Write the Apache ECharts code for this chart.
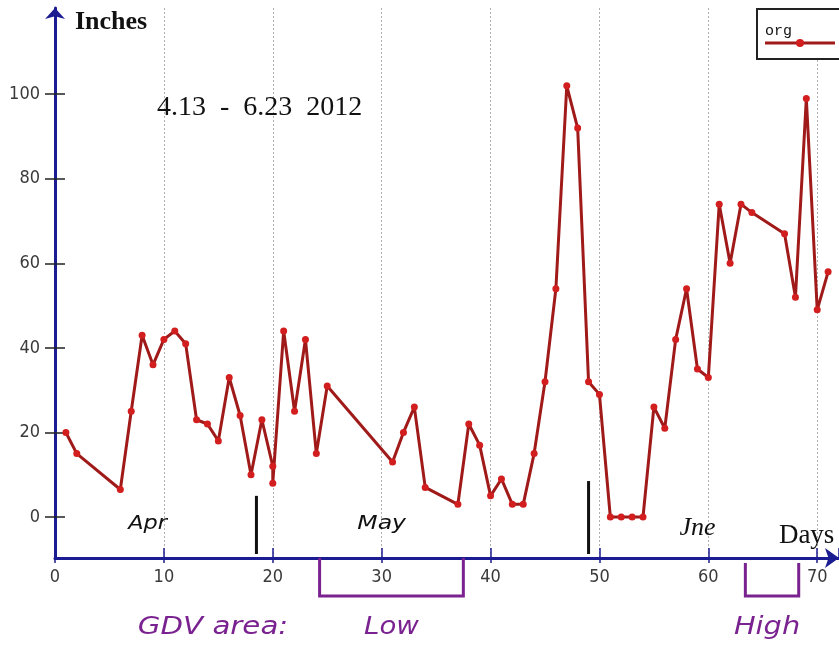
<!DOCTYPE html>
<html><head><meta charset="utf-8">
<script src="https://cdn.jsdelivr.net/npm/echarts@6/dist/echarts.min.js"></script>
<style>html,body{margin:0;padding:0;background:#fff}#c{width:839px;height:646px}</style>
</head><body><div id="c"></div>
<script>
// ---- data ----
const days   = [1,2,6,7,8,9,10,11,12,13,14,15,16,17,18,19,20,20,21,22,23,24,25,31,32,33,34,37,38,39,40,41,42,43,44,45,46,47,48,49,50,51,52,53,54,55,56,57,58,59,60,61,62,63,64,67,68,69,70,71];
const inches = [20,15,6.5,25,43,36,42,44,41,23,22,18,33,24,10,23,12,8,44,25,42,15,31,13,20,26,7,3,22,17,5,9,3,3,15,32,54,102,92,32,29,0,0,0,0,26,21,42,54,35,33,74,60,74,72,67,52,99,49,58];
const seriesName = 'org';
const yTickValues = [0,20,40,60,80,100];
const monthNames = ['Apr','May','Jne'];
const monthBoundaries = [18.5, 49];
const gdvLow = [24.3, 37.5];
const gdvHigh = [63.4, 68.3];
const titleText = '4.13  -  6.23  2012';
const yName = 'Inches';
const xName = 'Days';

const chart = echarts.init(document.getElementById('c'), null, {renderer:'canvas'});
const AX = '#1c1c92';
const labelFont = '"Liberation Sans Narrow","DejaVu Sans Condensed",sans-serif';
const xRange = {min:0, max:72};
const yRange = {min:-9.7, max:120.4};

chart.setOption({
  animation:false,
  backgroundColor:'#fff',
  grid:{left:55, top:8, width:788, height:550},
  xAxis:[{
    type:'value', min:xRange.min, max:xRange.max, interval:10, position:'bottom',
    axisLine:{show:true, onZero:false, lineStyle:{color:AX, width:3}, symbol:['none','arrow'], symbolSize:[15,14]},
    axisTick:{show:true, length:5, lineStyle:{color:AX, width:1.5}},
    axisLabel:{color:'#3a3a3a', fontFamily:labelFont, fontSize:18, margin:10, showMaxLabel:false},
    splitLine:{show:true, lineStyle:{color:'#b0b0b0', width:1, type:[2,2]}}
  },{
    type:'value', min:xRange.min, max:xRange.max, interval:10, position:'bottom',
    axisLine:{show:false, onZero:false},
    axisTick:{show:true, inside:true, length:10, lineStyle:{color:AX, width:1.5}},
    axisLabel:{show:false}, splitLine:{show:false}
  }],
  yAxis:[{
    type:'value', min:yRange.min, max:yRange.max, position:'left',
    axisLine:{show:true, onZero:false, lineStyle:{color:AX, width:3}, symbol:['none','arrow'], symbolSize:[15,11]},
    axisTick:{show:true, length:10, customValues:yTickValues, lineStyle:{color:'#222', width:1.5}},
    axisLabel:{customValues:yTickValues, color:'#3a3a3a', fontFamily:labelFont, fontSize:18, margin:15},
    splitLine:{show:false}
  },{
    type:'value', min:yRange.min, max:yRange.max, position:'left',
    axisLine:{show:false, onZero:false},
    axisTick:{show:true, inside:true, length:10, customValues:yTickValues, lineStyle:{color:'#222', width:1.5}},
    axisLabel:{show:false}, splitLine:{show:false}
  }],
  series:[{
    type:'line', name:seriesName, xAxisIndex:0, yAxisIndex:0,
    data: days.map((d,i)=>[d, inches[i]]),
    symbol:'circle', symbolSize:7,
    lineStyle:{color:'#a01a1a', width:3},
    itemStyle:{color:'#d21e1e'}
  }]
});

const P = (x,y)=>chart.convertToPixel({xAxisIndex:0, yAxisIndex:0}, [x,y]);
const axisY = P(0, yRange.min)[1];
const purple = '#7a2290';
const g = [];
function txt(x, y, text, font, fill, sx){
  g.push({type:'text', x:x, y:y, scaleX:sx||1, originX:0, originY:0,
    style:{text:text, font:font, fill:fill, align:'center', verticalAlign:'middle'}, z:10});
}
// month separators
monthBoundaries.forEach((m,i)=>{
  const px = P(m,0)[0];
  const top = i===0 ? P(m,5)[1] : P(m,8.5)[1];
  g.push({type:'line', shape:{x1:px, y1:top, x2:px, y2:axisY-4}, style:{stroke:'#111', lineWidth:3}, z:10});
});
// month labels
const monthPos = [[8.5,-1.5,'italic 20px "DejaVu Sans"',1.12],[30,-1.5,'italic 20px "DejaVu Sans"',1.18],[59,-2.7,'italic 26px "Liberation Serif"',1]];
monthNames.forEach((n,i)=>{
  const p = P(monthPos[i][0], monthPos[i][1]);
  txt(p[0], p[1], n, monthPos[i][2], '#111', monthPos[i][3]);
});
// axis names
g.push({type:'text', x:75, y:22, style:{text:yName, font:'bold 26px "Liberation Serif"', fill:'#111', align:'left', verticalAlign:'middle'}, z:10});
const dp = P(68.2, -4.5);
txt(dp[0]+9, dp[1], xName, '27px "Liberation Serif"', '#111', 1);
// title
g.push({type:'text', x:157, y:108, style:{text:titleText, font:'28px "Liberation Serif"', fill:'#111', align:'left', verticalAlign:'middle'}, z:10});
// legend
g.push({type:'rect', shape:{x:757, y:9, width:100, height:50}, style:{fill:'#fff', stroke:'#222', lineWidth:2}, z:20});
g.push({type:'text', x:765, y:31, style:{text:seriesName, font:'15px "Liberation Mono"', fill:'#111', align:'left', verticalAlign:'middle'}, z:21});
g.push({type:'line', shape:{x1:765, y1:43, x2:835, y2:43}, style:{stroke:'#a01a1a', lineWidth:3}, z:21});
g.push({type:'circle', shape:{cx:800, cy:43, r:4}, style:{fill:'#d21e1e'}, z:22});
// GDV brackets
function bracket(r, topY){
  const a = P(r[0],0)[0], b = P(r[1],0)[0];
  g.push({type:'polyline', shape:{points:[[a,topY],[a,596],[b,596],[b,topY]]}, style:{stroke:purple, lineWidth:3, fill:null}, z:10});
}
bracket(gdvLow, axisY);
bracket(gdvHigh, 563);
const lowC = P((gdvLow[0]+gdvLow[1])/2, 0)[0];
const highC = P((gdvHigh[0]+gdvHigh[1])/2, 0)[0];
txt(213, 628, 'GDV area:', 'italic 24px "DejaVu Sans"', purple, 1.22);
txt(lowC, 628, 'Low', 'italic 24px "DejaVu Sans"', purple, 1.15);
txt(highC-5, 628, 'High', 'italic 24px "DejaVu Sans"', purple, 1.2);
chart.setOption({graphic:g});
</script></body></html>
